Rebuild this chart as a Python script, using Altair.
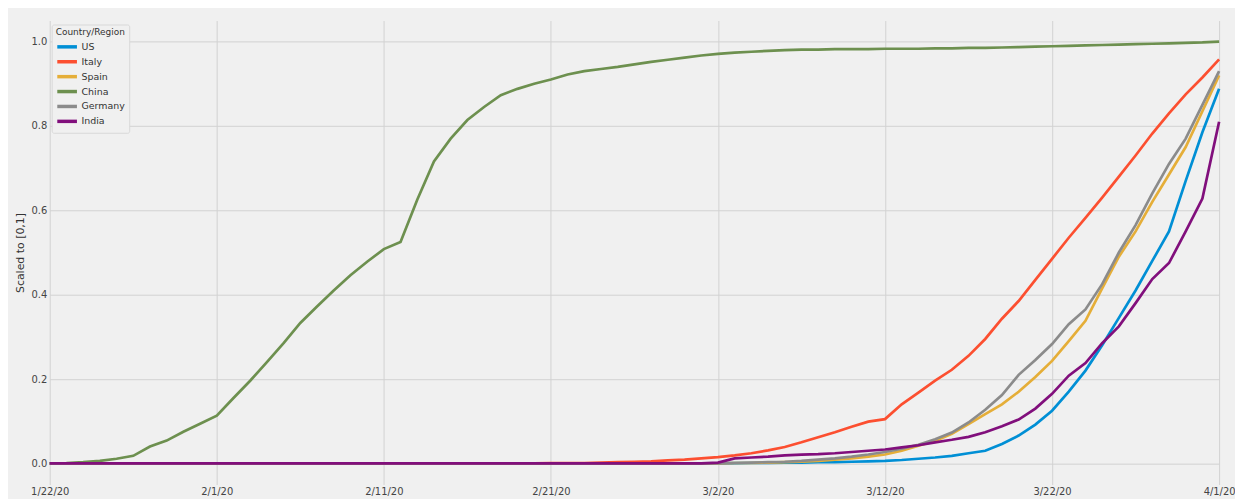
import altair as alt
import pandas as pd

dates = [d.strftime("%Y-%m-%d") for d in pd.date_range("2020-01-22", "2020-04-01")]

countries = ["US", "Italy", "Spain", "China", "Germany", "India"]
colors = ["#008fd5", "#fc4f30", "#e5ae38", "#6d904f", "#8b8b8b", "#810f7c"]

tick_dates = ["2020-01-22", "2020-02-01", "2020-02-11", "2020-02-21",
              "2020-03-02", "2020-03-12", "2020-03-22", "2020-04-01"]
y_ticks = [0.0, 0.2, 0.4, 0.6, 0.8, 1.0]

us = [0, 0, 0, 0, 0, 0, 0, 0, 0, 0,
      0, 0, 0, 0, 0, 0, 0, 0, 0, 0,
      0, 0, 0, 0, 0, 0, 0, 0, 0, 0,
      0, 0, 0, 0, 0, 0, 0, 0, 0, 0,
      0, 0.0005, 0.001, 0.001, 0.002, 0.002, 0.003, 0.003, 0.004, 0.005,
      0.006, 0.008, 0.011, 0.014, 0.018, 0.024, 0.03, 0.046, 0.066, 0.092,
      0.125, 0.17, 0.22, 0.28, 0.345, 0.41, 0.48, 0.55, 0.67, 0.785,
      0.888]
italy = [0, 0, 0, 0, 0, 0, 0, 0, 0, 0,
         0, 0, 0, 0, 0, 0, 0, 0, 0, 0,
         0, 0, 0, 0, 0, 0, 0, 0, 0, 0,
         0.0005, 0.001, 0.001, 0.002, 0.003, 0.004, 0.005, 0.007, 0.009, 0.012,
         0.015, 0.019, 0.024, 0.031, 0.039, 0.05, 0.062, 0.074, 0.087, 0.099,
         0.105, 0.14, 0.168, 0.196, 0.222, 0.255, 0.295, 0.343, 0.385, 0.435,
         0.485, 0.535, 0.582, 0.63, 0.68, 0.73, 0.782, 0.83, 0.875, 0.915,
         0.958]
spain = [0, 0, 0, 0, 0, 0, 0, 0, 0, 0,
         0, 0, 0, 0, 0, 0, 0, 0, 0, 0,
         0, 0, 0, 0, 0, 0, 0, 0, 0, 0,
         0, 0, 0, 0, 0, 0, 0, 0, 0, 0,
         0, 0.001, 0.001, 0.002, 0.003, 0.004, 0.006, 0.009, 0.012, 0.016,
         0.021, 0.03, 0.042, 0.053, 0.07, 0.093, 0.117, 0.14, 0.17, 0.205,
         0.243, 0.29, 0.338, 0.415, 0.49, 0.55, 0.62, 0.685, 0.75, 0.835,
         0.92]
china = [0.0, 0.001, 0.003, 0.006, 0.011, 0.018, 0.04, 0.054, 0.075, 0.094,
         0.113, 0.155, 0.196, 0.24, 0.285, 0.333, 0.372, 0.41, 0.446, 0.478,
         0.508, 0.525, 0.625, 0.716, 0.77, 0.814, 0.845, 0.873, 0.888, 0.9,
         0.91, 0.922, 0.93, 0.935, 0.94, 0.946, 0.952, 0.957, 0.962, 0.967,
         0.971, 0.974, 0.976, 0.978, 0.98, 0.981, 0.981, 0.982, 0.982, 0.982,
         0.983, 0.983, 0.983, 0.984, 0.984, 0.985, 0.985, 0.986, 0.987, 0.988,
         0.989, 0.99, 0.991, 0.992, 0.993, 0.994, 0.995, 0.996, 0.997, 0.998,
         1.0]
germany = [0, 0, 0, 0, 0, 0, 0, 0, 0, 0,
           0, 0, 0, 0, 0, 0, 0, 0, 0, 0,
           0, 0, 0, 0, 0, 0, 0, 0, 0, 0,
           0, 0, 0, 0, 0, 0, 0, 0, 0, 0,
           0, 0.001, 0.002, 0.003, 0.004, 0.006, 0.009, 0.012, 0.016, 0.021,
           0.027, 0.035, 0.044, 0.057, 0.073, 0.097, 0.127, 0.162, 0.21, 0.245,
           0.283, 0.33, 0.365, 0.425, 0.5, 0.565, 0.64, 0.71, 0.77, 0.85,
           0.93]
india = [0, 0, 0, 0, 0, 0, 0, 0, 0, 0,
         0, 0, 0, 0, 0, 0, 0, 0, 0, 0,
         0, 0, 0, 0, 0, 0, 0, 0, 0, 0,
         0, 0, 0, 0, 0, 0, 0, 0, 0, 0,
         0.002, 0.012, 0.014, 0.016, 0.019, 0.021, 0.022, 0.024, 0.027, 0.03,
         0.033, 0.038, 0.043, 0.05, 0.056, 0.063, 0.074, 0.088, 0.104, 0.13,
         0.165, 0.208, 0.238, 0.285, 0.325, 0.38, 0.437, 0.475, 0.55, 0.628,
         0.81]

series = {"US": us, "Italy": italy, "Spain": spain, "China": china,
          "Germany": germany, "India": india}

rows = []
for c in countries:
    for d, v in zip(dates, series[c]):
        rows.append({"date": d, "country": c, "value": v})
df = pd.DataFrame(rows)


def dt(s):
    y, m, d = (int(p) for p in s.split("-"))
    return alt.DateTime(year=y, month=m, date=d, utc=True)


font = "DejaVu Sans"

chart = alt.Chart(df).mark_line(strokeWidth=2.7).encode(
    x=alt.X("date:T",
            scale=alt.Scale(type="utc", domain=[dt(dates[0]), dt(dates[-1])], nice=False),
            axis=alt.Axis(values=[dt(t) for t in tick_dates],
                          labelExpr="utcFormat(datum.value, '%-m/%-d/%y')",
                          title=None, grid=True, domain=False, ticks=False,
                          labelFlush=False, labelPadding=2, labelFontSize=10,
                          labelColor="#444444", labelFont=font,
                          gridColor="#d2d2d2", gridWidth=1)),
    y=alt.Y("value:Q",
            scale=alt.Scale(domain=[-0.05, 1.05], nice=False, zero=False),
            axis=alt.Axis(values=y_ticks, format=".1f", title="Scaled to [0,1]",
                          grid=True, domain=False, ticks=False,
                          labelPadding=3, labelFontSize=10, labelColor="#444444",
                          labelFont=font, titleFont=font, titleFontSize=11,
                          titleFontWeight="normal", titleColor="#333333",
                          titlePadding=5, gridColor="#d2d2d2", gridWidth=1)),
    color=alt.Color("country:N",
                    scale=alt.Scale(domain=countries, range=colors),
                    sort=countries,
                    legend=alt.Legend(title="Country/Region", orient="none",
                                      legendX=2, legendY=4,
                                      titleFont=font, titleFontSize=9,
                                      titleFontWeight="normal", titleColor="#333333",
                                      titlePadding=2,
                                      labelFont=font, labelFontSize=9.5,
                                      labelColor="#333333", labelOffset=7,
                                      symbolType="M-1.8,0H1.8", symbolStrokeWidth=3.5,
                                      symbolSize=121, symbolOffset=4, rowPadding=0,
                                      fillColor="#f0f0f0", strokeColor="#d8d8d8",
                                      padding=4, cornerRadius=2)),
).properties(
    width=1177, height=467,
    padding={"left": 42, "top": 11, "right": 16, "bottom": 13},
    autosize="none",
    background="#f0f0f0",
).configure_view(stroke=None, fill="#f0f0f0")

chart.save("out.html", embed_options={"renderer": "svg", "actions": False})
